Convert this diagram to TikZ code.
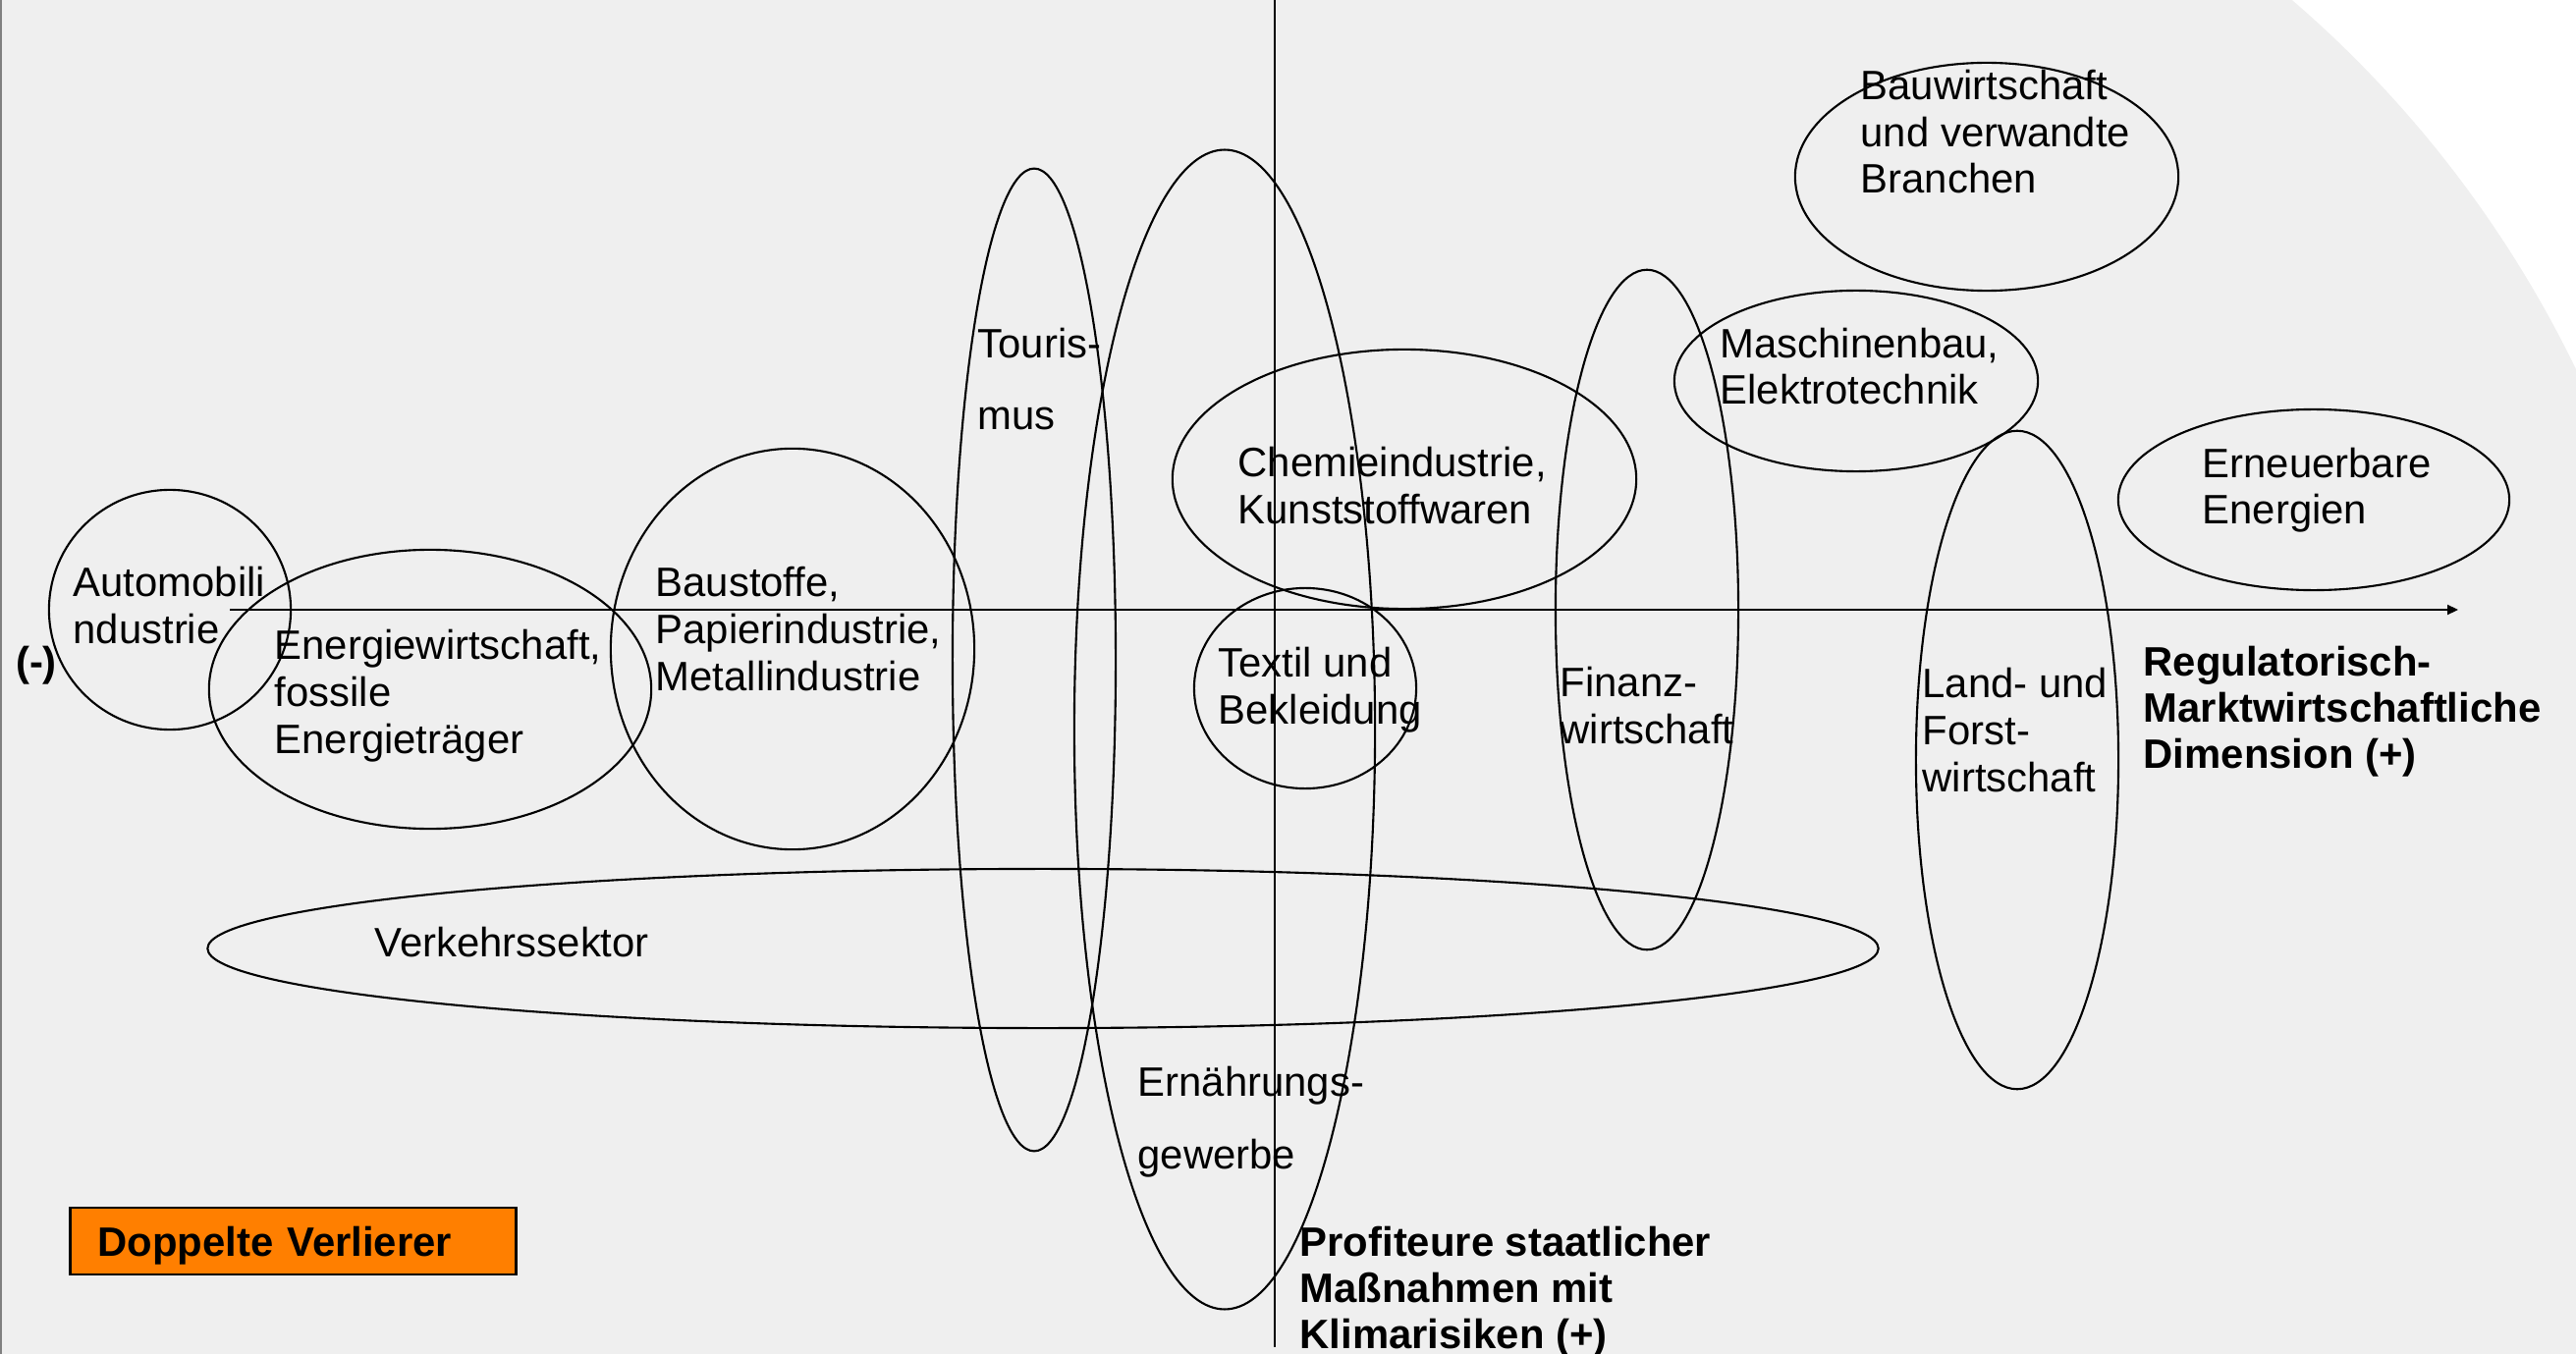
\documentclass[tikz,border=0pt]{standalone}
\usepackage{fontspec}
\setmainfont{Liberation Sans}
\usetikzlibrary{shapes.geometric,arrows.meta}
\definecolor{slide}{RGB}{239,239,239}
\definecolor{verlierer}{RGB}{255,127,0}

\begin{document}
\begin{tikzpicture}[x=0.01cm,y=-0.01cm,
  sector/.style 2 args={draw,ellipse,line width=0.6pt,inner sep=0pt,
    minimum width=#1*0.02cm,minimum height=#2*0.02cm},
  lbl/.style={anchor=base west,inner sep=0pt,align=left,
    font=\fontsize{11.9}{13.6}\selectfont},
  wide/.style={font=\fontsize{11.9}{21}\selectfont},
  dim/.style={lbl,font=\fontsize{11.9}{13.3}\selectfont\bfseries},
  axis/.style={line width=0.6pt},
  loser/.style={draw,fill=verlierer,line width=0.8pt,anchor=west,
    minimum height=0.68cm,text width=3.98cm,inner xsep=0.28cm,align=left,
    text height=0.3cm,text depth=0pt,
    font=\fontsize{11.9}{13.6}\selectfont\bfseries}]
  \useasboundingbox (0,0) rectangle (2623,1379);
  % slide background
  \fill[slide] (0,0) rectangle (2623,1379);
  \fill[white] (2623,0) -- (2334,0) arc[start angle=-49.27,end angle=-25.84,radius=1168] -- cycle;
  \draw[gray,line width=0.6pt] (1,0) -- (1,1379);

  % sectors
  \node[sector={123}{122}] (auto) at (173,621) {};
  \node[sector={225}{142}] (energie) at (438,702) {};
  \node[sector={185}{204}] (baustoffe) at (807,661) {};
  \node[sector={83}{500}] (tourismus) at (1053,672) {};
  \node[sector={153}{590}] (ernaehrung) at (1247,743) {};
  \node[sector={236}{132}] (chemie) at (1430,488) {};
  \node[sector={113}{102}] (textil) at (1329,701) {};
  \node[sector={850}{81}] (verkehr) at (1062,966) {};
  \node[sector={93}{346}] (finanz) at (1677,621) {};
  \node[sector={185}{92}] (maschinen) at (1890,388) {};
  \node[sector={195}{116}] (bau) at (2023,180) {};
  \node[sector={103}{335}] (land) at (2054,774) {};
  \node[sector={199}{92}] (erneuerbar) at (2356,509) {};

  % axes
  \coordinate (xl) at (234,621);
  \coordinate (xr) at (2503,621);
  \coordinate (yt) at (1298,0);
  \coordinate (yb) at (1298,1372);
  \draw[axis,-{Triangle[length=0.11cm,width=0.1cm]}] (xl) -- (xr);
  \draw[axis] (yt) -- (yb);

  % labels (placed at the baseline of their last line)
  \node[lbl] (auto-l) at (74,655) {Automobili\\ndustrie};
  \node[dim,anchor=center] (minus) at (37,678) {(-)};
  \node[lbl] (energie-l) at (279,767) {Energiewirtschaft,\\fossile\\Energieträger};
  \node[lbl] (baustoffe-l) at (667,703) {Baustoffe,\\Papierindustrie,\\Metallindustrie};
  \node[lbl,wide] (tourismus-l) at (995,438) {Touris-\\mus};
  \node[lbl,wide] (ernaehrung-l) at (1158,1190) {Ernährungs-\\gewerbe};
  \node[lbl] (chemie-l) at (1260,533) {Chemieindustrie,\\Kunststoffwaren};
  \node[lbl] (textil-l) at (1240,737) {Textil und\\Bekleidung};
  \node[lbl] (verkehr-l) at (381,974) {Verkehrssektor};
  \node[lbl] (finanz-l) at (1588,757) {Finanz-\\wirtschaft};
  \node[lbl] (maschinen-l) at (1751,412) {Maschinenbau,\\Elektrotechnik};
  \node[lbl] (bau-l) at (1894,197) {Bauwirtschaft\\und verwandte\\Branchen};
  \node[lbl] (land-l) at (1957,806) {Land- und\\Forst-\\wirtschaft};
  \node[lbl] (erneuerbar-l) at (2242,534) {Erneuerbare\\Energien};
  \node[dim] (markt) at (2182,782) {Regulatorisch-\\Marktwirtschaftliche\\Dimension (+)};
  \node[dim] (staat) at (1323,1373) {Profiteure staatlicher\\Maßnahmen mit\\Klimarisiken (+)};
  \node[loser] (verlierer) at (70,1264) {Doppelte Verlierer};
\end{tikzpicture}
\end{document}
